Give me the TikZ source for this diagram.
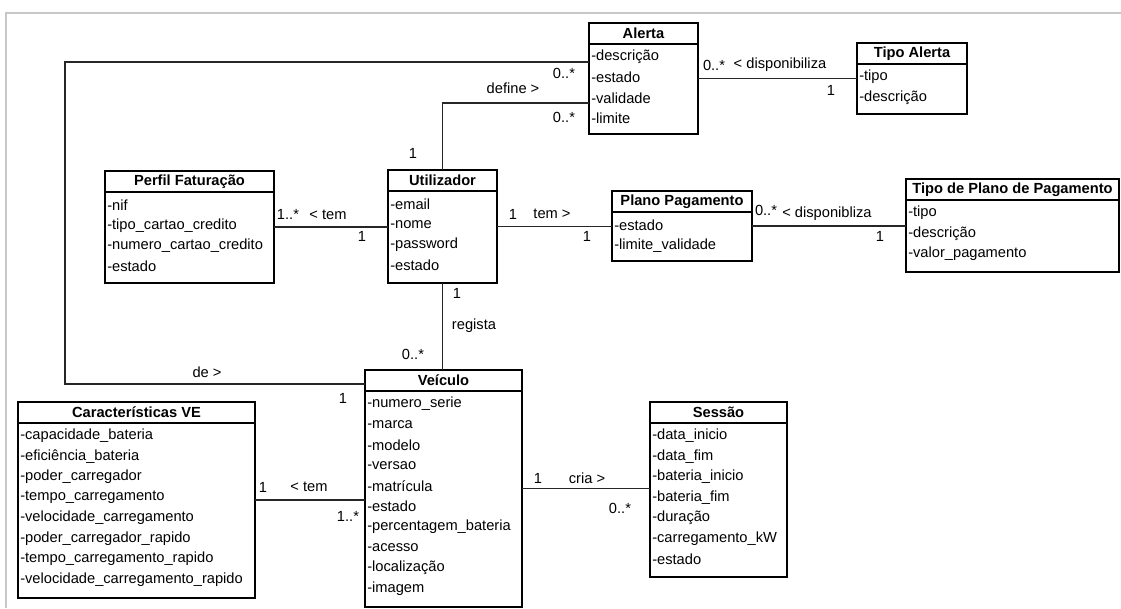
\documentclass[tikz,border=0pt]{standalone}
\usepackage{fontspec}
\setmainfont{Liberation Sans}
\usetikzlibrary{calc}

% A UML class: name, left, top, width, height, title, attribute list
\newcommand\umlclass[7]{%
  \node[classbox, minimum width=#4*0.75pt, minimum height=#5*0.75pt] (#1) at (#2,#3) {};
  \draw[classline] ($(#1.north west)+(0,21)$) -- ($(#1.north east)+(0,21)$);
  \node[classtitle] at ($(#1.north)+(0,10.5)$) {#6};
  \foreach \a [count=\i from 0] in {#7}
    \node[classattr] at ($(#1.north west)+(2,34+20.5*\i)$) {\a};
}

\begin{document}
\begin{tikzpicture}[x=0.75pt,y=-0.75pt,
  classbox/.style={draw=black, line width=1pt, inner sep=0pt, outer sep=0pt, anchor=north west, fill=white},
  classline/.style={draw=black, line width=1pt},
  classtitle/.style={font=\fontsize{11}{13}\selectfont\bfseries, inner sep=0pt},
  classattr/.style={font=\fontsize{11}{13}\selectfont, anchor=west, inner sep=0pt},
  lbl/.style={font=\fontsize{11}{13}\selectfont, inner sep=0pt},
  assoc/.style={draw=black!85, line width=1pt},
  frameline/.style={draw=black!22, line width=1.2pt}]
\useasboundingbox (0,0) rectangle (1121,608);

% outer frame
\draw[frameline] (6,608) -- (6,13) -- (1121,13);

% classes
\umlclass{alerta}{589}{23}{109}{111}{Alerta}{-descrição,-estado,-validade,-limite}
\umlclass{talerta}{857}{43}{110}{71}{Tipo Alerta}{-tipo,-descrição}
\umlclass{perfil}{105}{171}{169}{112}{Perfil Faturação}{-nif,-tipo\_cartao\_credito,-numero\_cartao\_credito,-estado}
\umlclass{util}{388}{170}{109}{113}{Utilizador}{-email,-nome,-password,-estado}
\umlclass{plano}{612}{191}{140}{70}{Plano Pagamento}{-estado,-limite\_validade}
\umlclass{tplano}{906}{179}{213}{93}{Tipo de Plano de Pagamento}{-tipo,-descrição,-valor\_pagamento}
\umlclass{veic}{365}{370}{157}{237}{Veículo}{-numero\_serie,-marca,-modelo,-versao,-matrícula,-estado,-percentagem\_bateria,-acesso,-localização,-imagem}
\umlclass{caract}{18}{402}{237}{196}{Características VE}{-capacidade\_bateria,-eficiência\_bateria,-poder\_carregador,-tempo\_carregamento,-velocidade\_carregamento,-poder\_carregador\_rapido,-tempo\_carregamento\_rapido,-velocidade\_carregamento\_rapido}
\umlclass{sessao}{650}{402}{137}{175}{Sessão}{-data\_inicio,-data\_fim,-bateria\_inicio,-bateria\_fim,-duração,-carregamento\_kW,-estado}

% Alerta -- Tipo Alerta
\draw[assoc] (alerta.east) -- (talerta.west);
\node[lbl] at (714,65) {0..*};
\node[lbl] at (780,65) {< disponibiliza};
\node[lbl] at (831,90) {1};

% Utilizador -- Alerta
\draw[assoc] (util.north) |- ($(alerta.west)+(0,24.5)$);
\node[lbl] at (513,88) {define >};
\node[lbl] at (564,117) {0..*};
\node[lbl] at (413,153) {1};

% Veículo -- Alerta
\draw[assoc] ($(alerta.west)+(0,-16.5)$) -- ++(-524,0) |- ($(veic.north west)+(0,14)$);
\node[lbl] at (564,73) {0..*};
\node[lbl] at (207,372) {de >};
\node[lbl] at (343,398) {1};

% Perfil Faturação -- Utilizador
\draw[assoc] (perfil.east) -- (perfil.east -| util.west);
\node[lbl] at (288,214) {1..*};
\node[lbl] at (328,215) {< tem};
\node[lbl] at (362,236) {1};

% Utilizador -- Plano Pagamento
\draw[assoc] (util.east) -- (util.east -| plano.west);
\node[lbl] at (513,214) {1};
\node[lbl] at (552,214) {tem >};
\node[lbl] at (587,236) {1};

% Plano Pagamento -- Tipo de Plano de Pagamento
\draw[assoc] (plano.east) -- (plano.east -| tplano.west);
\node[lbl] at (766,210) {0..*};
\node[lbl] at (827,214) {< disponibliza};
\node[lbl] at (880,236) {1};

% Utilizador -- Veículo
\draw[assoc] (util.south) -- (util.south |- veic.north);
\node[lbl] at (457,293) {1};
\node[lbl] at (474,326) {regista};
\node[lbl] at (413,354) {0..*};

% Características VE -- Veículo
\draw[assoc] (caract.east) -- (caract.east -| veic.west);
\node[lbl] at (263,487) {1};
\node[lbl] at (309,487) {< tem};
\node[lbl] at (348,516) {1..*};

% Veículo -- Sessão
\draw[assoc] (veic.east) -- (veic.east -| sessao.west);
\node[lbl] at (538,478) {1};
\node[lbl] at (587,478) {cria >};
\node[lbl] at (620,508) {0..*};
\end{tikzpicture}
\end{document}
